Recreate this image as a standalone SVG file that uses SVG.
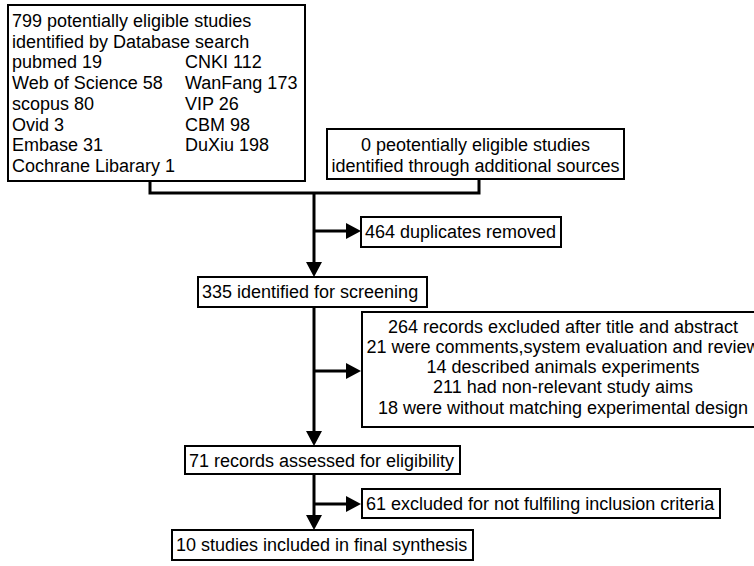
<svg xmlns="http://www.w3.org/2000/svg" width="754" height="566" viewBox="0 0 754 566">
<defs>
<style>
.box{fill:#fff;stroke:#000;stroke-width:2}
text{font-family:"Liberation Sans",Arial,sans-serif;font-size:18px;fill:#000}
.c{text-anchor:middle}
.ln{fill:none;stroke:#000;stroke-width:3}
.ah{fill:#000}
</style>
</defs>
<g id="connectors">
<path class="ln" d="M150,181 V193 H479 V179"/>
<path class="ln" d="M314,193 V263"/>
<path class="ah" d="M306,262 L314,277 L322,262 z"/>
<path class="ln" d="M314,231 H348"/>
<path class="ah" d="M346,223 L361,231 L346,239 z"/>
<path class="ln" d="M314,307 V432"/>
<path class="ah" d="M306,431 L314,446 L322,431 z"/>
<path class="ln" d="M314,371 H348"/>
<path class="ah" d="M346,363 L361,371 L346,379 z"/>
<path class="ln" d="M314,474 V516"/>
<path class="ah" d="M306,515 L314,530 L322,515 z"/>
<path class="ln" d="M314,504 H348"/>
<path class="ah" d="M346,496 L361,504 L346,512 z"/>
</g>
<g id="n1">
<rect class="box" x="8" y="5" width="297" height="176"/>
<text x="12" y="27">799 potentially eligible studies</text>
<text x="12" y="47.7">identified by Database search</text>
<text x="12" y="68.4">pubmed 19</text>
<text x="185" y="68.4">CNKI 112</text>
<text x="12" y="89.1">Web of Science 58</text>
<text x="185" y="89.1">WanFang 173</text>
<text x="12" y="109.8">scopus 80</text>
<text x="185" y="109.8">VIP 26</text>
<text x="12" y="130.5">Ovid 3</text>
<text x="185" y="130.5">CBM 98</text>
<text x="12" y="151.2">Embase 31</text>
<text x="185" y="151.2">DuXiu 198</text>
<text x="12" y="172">Cochrane Libarary 1</text>
</g>
<g id="n2">
<rect class="box" x="327" y="129" width="297" height="50"/>
<text class="c" x="475.5" y="151">0 peotentially eligible studies</text>
<text class="c" x="475.5" y="172">identified through additional sources</text>
</g>
<g id="n3">
<rect class="box" x="361" y="217" width="200" height="30"/>
<text x="365" y="238">464 duplicates removed</text>
</g>
<g id="n4">
<rect class="box" x="198" y="277" width="229" height="30"/>
<text x="202" y="298">335 identified for screening</text>
</g>
<g id="n5">
<rect class="box" x="362" y="312" width="400" height="115"/>
<text class="c" x="563" y="333">264 records excluded after title and abstract</text>
<text class="c" x="563" y="353">21 were comments,system evaluation and review</text>
<text class="c" x="563" y="373">14 described animals experiments</text>
<text class="c" x="563" y="393">211 had non-relevant study aims</text>
<text class="c" x="563" y="414">18 were without matching experimental design</text>
</g>
<g id="n6">
<rect class="box" x="185" y="446" width="275" height="28"/>
<text x="189" y="467">71 records assessed for eligibility</text>
</g>
<g id="n7">
<rect class="box" x="362" y="489" width="358" height="29"/>
<text x="366" y="510">61 excluded for not fulfiling inclusion criteria</text>
</g>
<g id="n8">
<rect class="box" x="172" y="530" width="301" height="30"/>
<text x="176" y="551">10 studies included in final synthesis</text>
</g>
</svg>
